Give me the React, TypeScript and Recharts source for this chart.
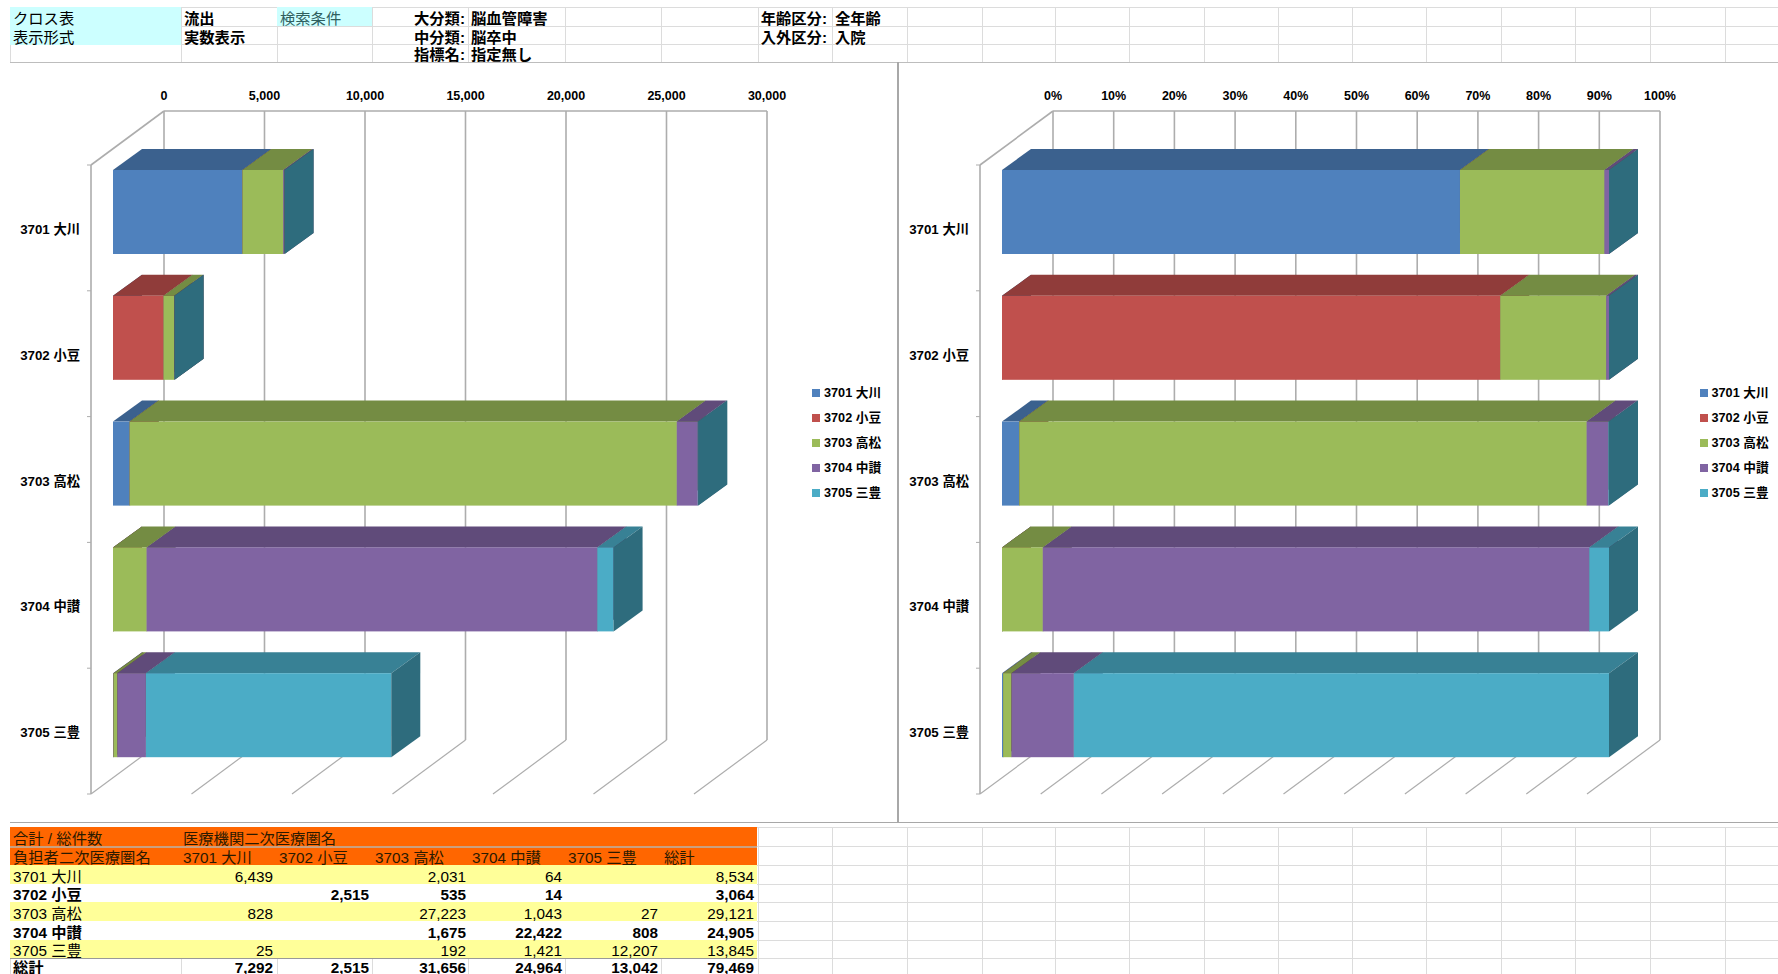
import React from 'react';
import { BarChart, Bar, XAxis, YAxis, CartesianGrid, Legend } from 'recharts';

const categories = ['3701 大川', '3702 小豆', '3703 高松', '3704 中讃', '3705 三豊'];
const seriesNames = ['3701 大川', '3702 小豆', '3703 高松', '3704 中讃', '3705 三豊'];

// one list per 医療機関 area, same order as categories
const values3701 = [6439, 0, 828, 0, 25];
const values3702 = [0, 2515, 0, 0, 0];
const values3703 = [2031, 535, 27223, 1675, 192];
const values3704 = [64, 14, 1043, 22422, 1421];
const values3705 = [0, 0, 27, 808, 12207];
const seriesValues = [values3701, values3702, values3703, values3704, values3705];

const rowTotals = [8534, 3064, 29121, 24905, 13845];
const columnTotals = [7292, 2515, 31656, 24964, 13042];
const grandTotal = 79469;

const countTicks = [0, 5000, 10000, 15000, 20000, 25000, 30000];
const shareTicks = [0, 0.1, 0.2, 0.3, 0.4, 0.5, 0.6, 0.7, 0.8, 0.9, 1];

const frontColors = ['#4F81BD', '#C0504D', '#9BBB59', '#8064A2', '#4BACC6'];
const topColors = ['#3B618E', '#903C3A', '#748C43', '#604B7A', '#388195'];
const sideColors = ['#2F4D71', '#733030', '#5D7035', '#4C3C61', '#2E6C7D'];

const FONT = '"Liberation Sans", "Noto Sans CJK JP", sans-serif';
const AXIS_GREY = '#ADADAD';
const SHEET_GREY = '#DCDCDC';

// oblique projection of the 3D box
const DEPTH_X = 73;
const DEPTH_Y = 54;
const BAR_SKEW_X = 22;
const BAR_SKEW_Y = 16;
const BAR_DEPTH_X = 29;
const BAR_DEPTH_Y = 21;
const PLOT_HEIGHT = 629;

const chartRows = categories.map((name, i) => {
  const row: any = { name };
  seriesNames.forEach((s, j) => {
    row[s] = seriesValues[j][i];
  });
  return row;
});

const Box3D = (props: any) => {
  const { x, y, width, height, seriesIndex } = props;
  const left = x + BAR_SKEW_X;
  const top = y - BAR_SKEW_Y;
  const right = left + width;
  const bottom = top + height;
  const topFace = `${left},${top} ${right},${top} ${right + BAR_DEPTH_X},${top - BAR_DEPTH_Y} ${left + BAR_DEPTH_X},${top - BAR_DEPTH_Y}`;
  const sideFace = `${right},${top} ${right + BAR_DEPTH_X},${top - BAR_DEPTH_Y} ${right + BAR_DEPTH_X},${bottom - BAR_DEPTH_Y} ${right},${bottom}`;
  return (
    <g>
      <polygon points={topFace} fill={topColors[seriesIndex]} />
      <rect x={left} y={top} width={width} height={height} fill={frontColors[seriesIndex]} />
      <polygon points={sideFace} fill={sideColors[seriesIndex]} />
    </g>
  );
};

const WallLine = (props: any, plotWidth: number) => {
  const { x1, y1, y2, index } = props;
  const backX = x1 + DEPTH_X;
  const backTop = y1 - DEPTH_Y;
  const backBottom = y2 - DEPTH_Y;
  return (
    <g key={`wall-${index}`}>
      <line x1={backX} y1={backTop} x2={backX} y2={backBottom} stroke={AXIS_GREY} strokeWidth={1.6} />
      <line x1={backX} y1={backBottom} x2={x1} y2={y2} stroke={AXIS_GREY} strokeWidth={1.2} />
      {index === 0 && (
        <>
          <line x1={x1} y1={y1} x2={backX} y2={backTop} stroke={AXIS_GREY} strokeWidth={1.6} />
          <line x1={backX} y1={backTop} x2={backX + plotWidth} y2={backTop} stroke={AXIS_GREY} strokeWidth={1.6} />
        </>
      )}
    </g>
  );
};

const CategoryTick = (props: any) => {
  const { x, y, payload, index } = props;
  const step = PLOT_HEIGHT / categories.length;
  return (
    <g>
      <text x={x} y={y + 6} textAnchor="end" fontSize={13.3} fontWeight={700} fontFamily={FONT} fill="#000">
        {payload.value}
      </text>
      <line x1={x + 7} x2={x + 11} y1={y - step / 2} y2={y - step / 2} stroke={AXIS_GREY} />
      {index === categories.length - 1 && (
        <line x1={x + 7} x2={x + 11} y1={y + step / 2} y2={y + step / 2} stroke={AXIS_GREY} />
      )}
    </g>
  );
};

const BackTick = (props: any, format: (v: number) => string) => {
  const { x, payload } = props;
  return (
    <text x={x + DEPTH_X} y={38} textAnchor="middle" fontSize={12.5} fontWeight={700} fontFamily={FONT} fill="#000">
      {format(payload.value)}
    </text>
  );
};

const LegendList = ({ payload }: any) => (
  <div style={{ fontFamily: FONT, fontSize: 12.7, fontWeight: 700, color: '#000' }}>
    {(payload || []).map((item: any) => (
      <div key={item.value} style={{ height: 25, lineHeight: '25px', whiteSpace: 'nowrap', position: 'relative', paddingLeft: 12 }}>
        <span style={{ position: 'absolute', left: 0, top: 8, width: 8, height: 8, background: item.color }} />
        {item.value}
      </div>
    ))}
  </div>
);

const Chart3D = ({ left, width, axisWidth, plotWidth, ticks, format, offset }: any) => (
  <div style={{ position: 'absolute', left, top: 62 }}>
    <BarChart
      width={width}
      height={760}
      data={chartRows}
      layout="vertical"
      stackOffset={offset}
      margin={{ top: 0, left: 0, bottom: 28, right: width - axisWidth - plotWidth }}
    >
      <CartesianGrid horizontal={false} vertical={(p: any) => WallLine(p, plotWidth)} />
      <XAxis
        type="number"
        orientation="top"
        height={103}
        domain={[ticks[0], ticks[ticks.length - 1]]}
        ticks={ticks}
        interval={0}
        axisLine={false}
        tickLine={false}
        tick={(p: any) => BackTick(p, format)}
      />
      <YAxis
        type="category"
        dataKey="name"
        width={axisWidth}
        tickSize={0}
        tickMargin={11}
        interval={0}
        axisLine={{ stroke: AXIS_GREY, strokeWidth: 1.6 }}
        tickLine={false}
        tick={CategoryTick}
      />
      {seriesNames.map((name, i) => (
        <Bar
          key={name}
          dataKey={name}
          name={name}
          stackId="flow"
          barSize={84}
          fill={frontColors[i]}
          isAnimationActive={false}
          shape={(p: any) => <Box3D {...p} seriesIndex={i} />}
        />
      ))}
      <Legend
        layout="vertical"
        align="center"
        verticalAlign="middle"
        wrapperStyle={{ left: 802, top: 319, width: 90 }}
        content={LegendList}
      />
    </BarChart>
  </div>
);

// spreadsheet around the charts
const sheetColumns = [10, 181, 277, 372, 468, 565, 661, 758, 832, 907, 982, 1055, 1129, 1204, 1278, 1352, 1426, 1501, 1575, 1650, 1725];
const topRowLines = [7, 26, 44, 62];
const bottomRowLines = [827, 846, 865, 884, 902, 921, 940, 958];
const pivotColumns = [10, 180, 276, 372, 469, 565, 661, 757];

const Cell = ({ x, y, w, h, bg, bold, align, color, children }: any) => (
  <div
    style={{
      position: 'absolute',
      left: x,
      top: y,
      width: w,
      height: h,
      background: bg,
      fontWeight: bold ? 700 : 400,
      textAlign: align || 'left',
      color: color || '#000',
      lineHeight: `${h + 4}px`,
      whiteSpace: 'nowrap',
      boxSizing: 'border-box',
      padding: '0 3px',
    }}
  >
    {children}
  </div>
);

const SheetLines = ({ rows, columns, bottom }: any) => (
  <>
    {rows.map((y: number) => (
      <div key={`h${y}`} style={{ position: 'absolute', left: 10, top: y, width: 1768, height: 1, background: SHEET_GREY }} />
    ))}
    {columns.map((x: number) => (
      <div key={`v${x}`} style={{ position: 'absolute', left: x, top: rows[0], width: 1, height: bottom - rows[0], background: SHEET_GREY }} />
    ))}
  </>
);

const HeaderCells = () => (
  <>
    <Cell x={10} y={7} w={171} h={19} bg="#CCFFFF">クロス表</Cell>
    <Cell x={10} y={26} w={171} h={19} bg="#CCFFFF">表示形式</Cell>
    <Cell x={181} y={7} w={96} h={19} bold>流出</Cell>
    <Cell x={181} y={26} w={96} h={19} bold>実数表示</Cell>
    <Cell x={277} y={7} w={95} h={19} bg="#CCFFFF" color="#2F5F5F">検索条件</Cell>
    <Cell x={372} y={7} w={96} h={19} bold align="right">大分類:</Cell>
    <Cell x={372} y={26} w={96} h={19} bold align="right">中分類:</Cell>
    <Cell x={372} y={44} w={96} h={18} bold align="right">指標名:</Cell>
    <Cell x={468} y={7} w={200} h={19} bold>脳血管障害</Cell>
    <Cell x={468} y={26} w={200} h={19} bold>脳卒中</Cell>
    <Cell x={468} y={44} w={200} h={18} bold>指定無し</Cell>
    <Cell x={730} y={7} w={100} h={19} bold align="right">年齢区分:</Cell>
    <Cell x={730} y={26} w={100} h={19} bold align="right">入外区分:</Cell>
    <Cell x={832} y={7} w={75} h={19} bold>全年齢</Cell>
    <Cell x={832} y={26} w={75} h={19} bold>入院</Cell>
  </>
);

const PivotTable = () => {
  const tableWidth = pivotColumns[pivotColumns.length - 1] - pivotColumns[0];
  const dark = '#2B1A00';
  return (
    <>
      <div style={{ position: 'absolute', left: 10, top: 827, width: tableWidth, height: 38, background: '#FF6600' }} />
      <div style={{ position: 'absolute', left: 10, top: 846, width: tableWidth, height: 2, background: '#C9A080' }} />
      {categories.map((name, i) => (
        <div
          key={name}
          style={{
            position: 'absolute',
            left: 10,
            top: bottomRowLines[i + 2],
            width: tableWidth,
            height: bottomRowLines[i + 3] - bottomRowLines[i + 2],
            background: i % 2 === 0 ? '#FFFF99' : '#FFFFFF',
          }}
        />
      ))}
      <div style={{ position: 'absolute', left: 10, top: 958, width: tableWidth, height: 1, background: '#999' }} />
      <Cell x={10} y={827} w={170} h={19} color={dark}>合計 / 総件数</Cell>
      <Cell x={180} y={827} w={300} h={19} color={dark}>医療機関二次医療圏名</Cell>
      <Cell x={10} y={846} w={170} h={19} color={dark}>負担者二次医療圏名</Cell>
      {seriesNames.map((name, j) => (
        <Cell key={name} x={pivotColumns[j + 1]} y={846} w={96} h={19} color={dark}>{name}</Cell>
      ))}
      <Cell x={661} y={846} w={96} h={19} color={dark}>総計</Cell>
      {categories.map((name, i) => {
        const y = bottomRowLines[i + 2];
        const h = bottomRowLines[i + 3] - y;
        const striped = i % 2 === 0;
        return (
          <React.Fragment key={name}>
            <Cell x={10} y={y} w={170} h={h} bold={!striped}>{name}</Cell>
            {seriesValues.map((vals, j) => (
              <Cell key={j} x={pivotColumns[j + 1]} y={y} w={pivotColumns[j + 2] - pivotColumns[j + 1]} h={h} bold={!striped} align="right">
                {vals[i] ? vals[i].toLocaleString('en-US') : ''}
              </Cell>
            ))}
            <Cell x={661} y={y} w={96} h={h} bold={!striped} align="right">{rowTotals[i].toLocaleString('en-US')}</Cell>
          </React.Fragment>
        );
      })}
      <Cell x={10} y={958} w={170} h={15} bold>総計</Cell>
      {columnTotals.map((v, j) => (
        <Cell key={j} x={pivotColumns[j + 1]} y={958} w={pivotColumns[j + 2] - pivotColumns[j + 1]} h={15} bold align="right">
          {v.toLocaleString('en-US')}
        </Cell>
      ))}
      <Cell x={661} y={958} w={96} h={15} bold align="right">{grandTotal.toLocaleString('en-US')}</Cell>
    </>
  );
};

export default function App() {
  return (
    <div
      style={{
        position: 'absolute',
        left: 0,
        top: 0,
        width: 1778,
        height: 974,
        overflow: 'hidden',
        background: '#fff',
        fontFamily: FONT,
        fontSize: 15.3,
      }}
    >
      <SheetLines rows={topRowLines} columns={sheetColumns} bottom={62} />
      <SheetLines rows={bottomRowLines} columns={sheetColumns} bottom={974} />
      <HeaderCells />
      <PivotTable />
      <div style={{ position: 'absolute', left: 10, top: 62, width: 1768, height: 1, background: '#BDBDBD' }} />
      <div style={{ position: 'absolute', left: 10, top: 822, width: 1768, height: 1, background: '#A8A8A8' }} />
      <div style={{ position: 'absolute', left: 897, top: 62, width: 2, height: 760, background: '#A8A8A8' }} />
      <Chart3D
        left={10}
        width={887}
        axisWidth={81}
        plotWidth={603}
        ticks={countTicks}
        format={(v: number) => v.toLocaleString('en-US')}
      />
      <Chart3D
        left={897.5}
        width={880}
        axisWidth={82}
        plotWidth={607}
        ticks={shareTicks}
        offset="expand"
        format={(v: number) => `${Math.round(v * 100)}%`}
      />
    </div>
  );
}
